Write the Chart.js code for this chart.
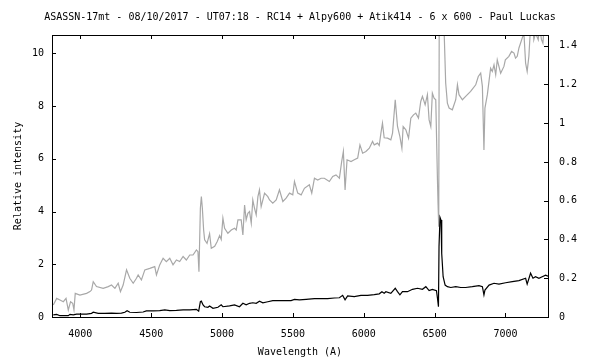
<!DOCTYPE html>
<html>
<head>
<meta charset="utf-8">
<script src="https://cdn.jsdelivr.net/npm/chart.js@4/dist/chart.umd.min.js"></script>
<style>
  html, body { margin: 0; padding: 0; background: #fff; }
  canvas { display: block; }
</style>
</head>
<body>
<canvas id="spec" width="600" height="360"></canvas>
<script>
// smoothed spectrum (black, left axis)
var blackWl = [3809, 3833, 3856, 3891, 3915, 3927, 3950, 3974, 3997, 4044, 4079, 4091, 4126, 4173, 4220, 4255, 4290, 4314, 4330, 4349,
    4396, 4443, 4466, 4513, 4560, 4596, 4631, 4678, 4725, 4772, 4819, 4835, 4847, 4854, 4866, 4877, 4900, 4912, 4936, 4971,
    4994, 5006, 5053, 5088, 5123, 5147, 5170, 5194, 5217, 5241, 5264, 5288, 5323, 5358, 5405, 5452, 5487, 5511, 5546, 5593,
    5652, 5699, 5745, 5792, 5828, 5851, 5868, 5886, 5933, 5980, 6027, 6074, 6109, 6128, 6144, 6156, 6191, 6222, 6238, 6255,
    6273, 6308, 6344, 6379, 6414, 6438, 6461, 6484, 6513, 6520, 6527, 6531, 6538, 6545, 6550, 6560, 6574, 6590, 6614, 6649,
    6684, 6719, 6766, 6813, 6837, 6848, 6855, 6884, 6919, 6954, 7001, 7048, 7095, 7142, 7153, 7177, 7194, 7212, 7236, 7259,
    7283, 7300]
var blackFlux = [0.08, 0.10, 0.05, 0.05, 0.05, 0.10, 0.08, 0.11, 0.11, 0.11, 0.14, 0.18, 0.14, 0.14, 0.15, 0.14, 0.15, 0.18, 0.24, 0.18,
    0.17, 0.19, 0.23, 0.23, 0.24, 0.27, 0.24, 0.25, 0.27, 0.27, 0.29, 0.22, 0.58, 0.60, 0.46, 0.39, 0.37, 0.42, 0.33, 0.37,
    0.46, 0.39, 0.42, 0.46, 0.39, 0.52, 0.46, 0.52, 0.54, 0.52, 0.60, 0.54, 0.58, 0.62, 0.62, 0.62, 0.62, 0.67, 0.65, 0.67,
    0.70, 0.70, 0.70, 0.72, 0.73, 0.82, 0.65, 0.80, 0.77, 0.82, 0.82, 0.85, 0.88, 0.96, 0.90, 0.96, 0.90, 1.09, 0.96, 0.84,
    0.96, 0.96, 1.05, 1.09, 1.05, 1.15, 1.00, 1.05, 1.00, 0.71, 0.39, 2.67, 3.78, 3.68, 2.41, 1.53, 1.21, 1.15, 1.12, 1.15,
    1.12, 1.12, 1.15, 1.19, 1.15, 0.84, 1.02, 1.21, 1.28, 1.25, 1.30, 1.34, 1.38, 1.47, 1.25, 1.66, 1.47, 1.53, 1.47, 1.53,
    1.59, 1.55]

// raw spectrum (grey, right axis)
var greyWl = [3809, 3833, 3856, 3880, 3899, 3915, 3931, 3946, 3955, 3964, 3997, 4044, 4068, 4079, 4091, 4114, 4161, 4197, 4220, 4244,
    4267, 4283, 4302, 4326, 4349, 4373, 4396, 4408, 4431, 4455, 4490, 4525, 4537, 4560, 4584, 4607, 4631, 4654, 4678, 4701,
    4725, 4748, 4772, 4795, 4819, 4830, 4837, 4847, 4854, 4861, 4870, 4877, 4894, 4912, 4924, 4948, 4966, 4983, 4994, 5006,
    5018, 5041, 5065, 5088, 5100, 5112, 5135, 5147, 5159, 5170, 5182, 5194, 5206, 5217, 5229, 5241, 5253, 5264, 5276, 5288,
    5300, 5323, 5335, 5358, 5382, 5405, 5429, 5452, 5476, 5499, 5511, 5534, 5558, 5581, 5616, 5633, 5652, 5675, 5699, 5722,
    5757, 5781, 5804, 5828, 5844, 5856, 5868, 5882, 5910, 5933, 5957, 5973, 5992, 6015, 6039, 6062, 6074, 6097, 6109, 6121,
    6132, 6144, 6168, 6191, 6203, 6222, 6238, 6255, 6269, 6278, 6297, 6316, 6332, 6351, 6367, 6386, 6402, 6414, 6433, 6449,
    6461, 6473, 6484, 6496, 6508, 6520, 6524, 6529, 6534, 6540, 6548, 6556, 6566, 6578, 6590, 6602, 6625, 6649, 6661, 6672,
    6696, 6719, 6754, 6790, 6808, 6825, 6837, 6848, 6855, 6872, 6895, 6907, 6919, 6931, 6942, 6966, 6989, 6999, 7024, 7043,
    7060, 7071, 7083, 7095, 7118, 7130, 7142, 7153, 7165, 7177, 7189, 7200, 7212, 7231, 7240, 7254, 7264, 7278, 7294, 7300]
var greyFlux = [0.062, 0.096, 0.088, 0.079, 0.096, 0.036, 0.079, 0.071, 0.036, 0.122, 0.113, 0.122, 0.131, 0.139, 0.182, 0.157, 0.148, 0.157, 0.165, 0.148,
    0.174, 0.131, 0.165, 0.243, 0.200, 0.174, 0.200, 0.217, 0.191, 0.243, 0.251, 0.260, 0.217, 0.269, 0.303, 0.286, 0.303, 0.269, 0.294, 0.286,
    0.312, 0.294, 0.320, 0.320, 0.346, 0.337, 0.234, 0.561, 0.621, 0.561, 0.449, 0.398, 0.380, 0.430, 0.355, 0.365, 0.390, 0.420, 0.400, 0.510,
    0.458, 0.432, 0.449, 0.458, 0.449, 0.501, 0.501, 0.423, 0.578, 0.501, 0.535, 0.544, 0.484, 0.604, 0.561, 0.527, 0.621, 0.656, 0.570, 0.604,
    0.639, 0.621, 0.604, 0.587, 0.604, 0.656, 0.596, 0.613, 0.639, 0.630, 0.699, 0.639, 0.630, 0.664, 0.682, 0.639, 0.716, 0.707, 0.716, 0.716,
    0.699, 0.725, 0.733, 0.716, 0.802, 0.854, 0.656, 0.811, 0.802, 0.811, 0.820, 0.888, 0.845, 0.854, 0.871, 0.906, 0.888, 0.897, 0.885, 0.949,
    1.000, 0.925, 0.923, 0.914, 0.949, 1.121, 0.983, 0.931, 0.871, 0.983, 0.966, 0.923, 1.026, 1.043, 1.052, 1.026, 1.112, 1.138, 1.095, 1.147,
    1.017, 0.983, 1.155, 1.129, 1.121, 0.707, 0.587, 0.466, 2.0, 3.7, 3.6, 2.5, 1.5, 1.207, 1.103, 1.078, 1.069, 1.121, 1.198, 1.147,
    1.121, 1.138, 1.164, 1.198, 1.241, 1.258, 1.190, 0.862, 1.078, 1.147, 1.284, 1.267, 1.301, 1.250, 1.327, 1.258, 1.293, 1.327, 1.345, 1.370,
    1.362, 1.336, 1.345, 1.388, 1.439, 1.465, 1.310, 1.267, 1.345, 1.500, 1.560, 1.431, 1.465, 1.431, 1.500, 1.431, 1.413, 1.550, 1.480, 1.500]

var xTicks = [4000, 4500, 5000, 5500, 6000, 6500, 7000]
var yTicks = [0, 2, 4, 6, 8, 10]
var y2Ticks = [0, 0.2, 0.4, 0.6, 0.8, 1, 1.2, 1.4]

var monoFont = { family: "'DejaVu Sans Mono', monospace", size: 10, weight: 'normal' }

function toPoints(xs, ys) {
    return xs.map((x, i) => ({ x: x, y: ys[i] }))
}

function setTicks(values) {
    return function (scale) {
        scale.ticks = values.map(v => ({ value: v }))
    }
}

// gnuplot style frame with ticks pointing inwards
var frame = {
    id: 'frame',
    afterDraw(chart) {
        var ctx = chart.ctx
        var a = chart.chartArea
        var s = chart.scales
        var tl = 4
        ctx.save()
        ctx.strokeStyle = '#000'
        ctx.lineWidth = 1
        ctx.beginPath()
        s.x.ticks.forEach(t => {
            var px = Math.round(s.x.getPixelForValue(t.value)) + 0.5
            ctx.moveTo(px, a.bottom); ctx.lineTo(px, a.bottom - tl)
            ctx.moveTo(px, a.top); ctx.lineTo(px, a.top + tl)
        })
        s.y.ticks.forEach(t => {
            var py = Math.round(s.y.getPixelForValue(t.value)) + 0.5
            ctx.moveTo(a.left, py); ctx.lineTo(a.left + tl, py)
        })
        s.y2.ticks.forEach(t => {
            var py = Math.round(s.y2.getPixelForValue(t.value)) + 0.5
            ctx.moveTo(a.right, py); ctx.lineTo(a.right - tl, py)
        })
        ctx.stroke()
        ctx.strokeRect(a.left + 0.5, a.top + 0.5, a.right - a.left, a.bottom - a.top)
        ctx.restore()
    }
}

new Chart("spec", {
    type: "line",
    data: {
        datasets: [{
            data: toPoints(blackWl, blackFlux),
            yAxisID: 'y',
            borderColor: '#000000',
            borderWidth: 1.2
        }, {
            data: toPoints(greyWl, greyFlux),
            yAxisID: 'y2',
            borderColor: '#a8a8a8',
            borderWidth: 1.2
        }]
    },
    options: {
        responsive: false,
        animation: false,
        devicePixelRatio: 1,
        layout: { padding: 0 },
        elements: { point: { radius: 0 }, line: { tension: 0 } },
        plugins: {
            legend: { display: false },
            tooltip: { enabled: false },
            title: {
                display: true,
                text: "ASASSN-17mt - 08/10/2017 - UT07:18 - RC14 + Alpy600 + Atik414 - 6 x 600 - Paul Luckas",
                color: '#000',
                font: monoFont,
                padding: { top: 11.5, bottom: 11.5 }
            }
        },
        scales: {
            x: {
                type: 'linear',
                min: 3800,
                max: 7300,
                afterBuildTicks: setTicks(xTicks),
                afterFit: s => { s.height = 43 },
                grid: { display: false, drawTicks: false },
                border: { display: false },
                ticks: { color: '#000', font: monoFont, padding: 11, maxRotation: 0, callback: v => String(v) },
                title: { display: true, text: 'Wavelength (A)', color: '#000', font: monoFont, padding: { top: 0, bottom: 2 } }
            },
            y: {
                position: 'left',
                min: 0,
                max: 10.7,
                afterBuildTicks: setTicks(yTicks),
                afterFit: s => { s.width = 52 },
                grid: { display: false, drawTicks: false },
                border: { display: false },
                ticks: { color: '#000', font: monoFont, padding: 8, callback: v => String(v) },
                title: { display: true, text: 'Relative intensity', color: '#000', font: monoFont, padding: { top: 12, bottom: 0 } }
            },
            y2: {
                position: 'right',
                min: 0,
                max: 1.455,
                afterBuildTicks: setTicks(y2Ticks),
                afterFit: s => { s.width = 52 },
                grid: { display: false, drawTicks: false },
                border: { display: false },
                ticks: { color: '#000', font: monoFont, padding: 11, callback: v => String(v) }
            }
        }
    },
    plugins: [frame]
})
</script>
</body>
</html>
